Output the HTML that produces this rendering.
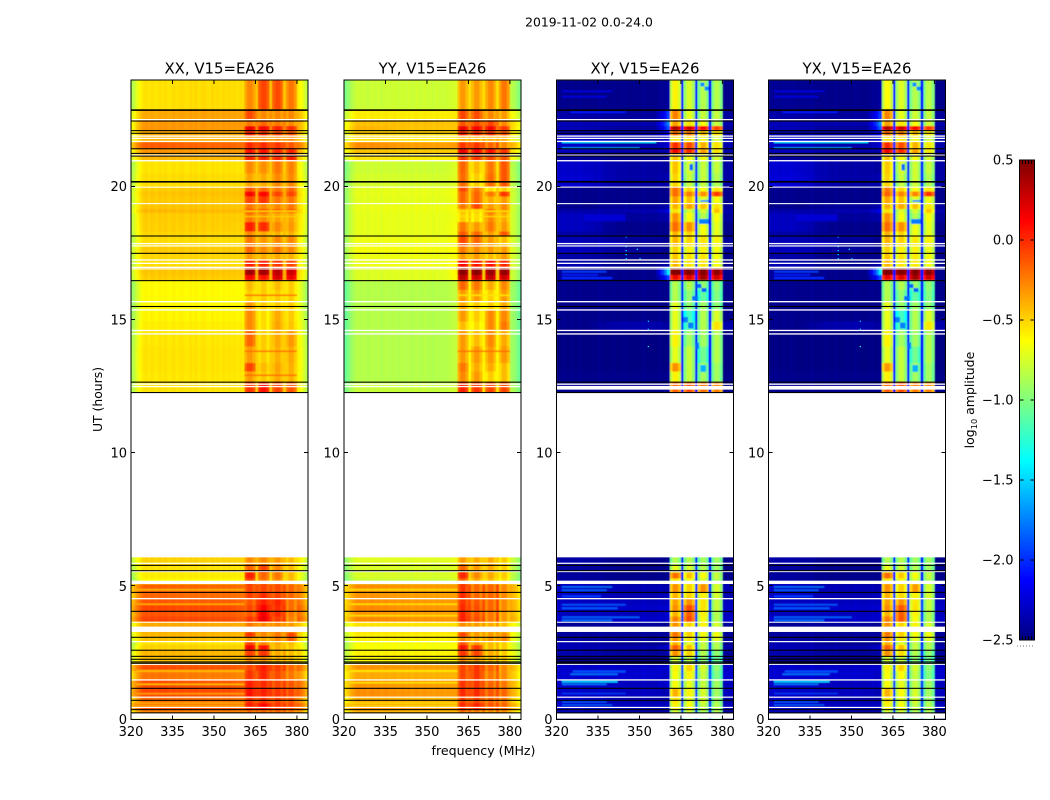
<!DOCTYPE html>
<html lang="en">
<head>
<meta charset="utf-8">
<title>2019-11-02 0.0-24.0</title>
<style>
html,body{margin:0;padding:0;background:#fff;}
svg{display:block;font-family:"DejaVu Sans","Liberation Sans",sans-serif;fill:#000;}
</style>
</head>
<body>
<svg id="fig" xmlns="http://www.w3.org/2000/svg" width="1050" height="800" viewBox="0 0 1050 800">
  <defs>
    <filter id="soft" x="0" y="0" width="100%" height="100%"><feGaussianBlur stdDeviation="0.55"/></filter>
  </defs>
  <rect width="1050" height="800" fill="#fff"/>
  <text x="589" y="26.5" text-anchor="middle" font-size="12.4">2019-11-02 0.0-24.0</text>
  <text transform="translate(102,399.5) rotate(-90)" text-anchor="middle" font-size="12.4">UT (hours)</text>
  <text x="483.5" y="755" text-anchor="middle" font-size="12.6">frequency (MHz)</text>
  <text transform="translate(974,400) rotate(-90)" text-anchor="middle" font-size="12.5">log<tspan font-size="8.2" dy="3">10</tspan><tspan dy="-3"> amplitude</tspan></text>
  <g id="panels"></g>
  <g id="colorbar"></g>
</svg>
<script>
// ---------- chart data ----------
const xTicks = [320, 335, 350, 365, 380];
const yTicks = [0, 5, 10, 15, 20];
const colorTicks = [0.5, 0, -0.5, -1, -1.5, -2, -2.5];
const colorTickLabels = ['0.5', '0.0', '\u22120.5', '\u22121.0', '\u22121.5', '\u22122.0', '\u22122.5'];
const panelTitles = ['XX, V15=EA26', 'YY, V15=EA26', 'XY, V15=EA26', 'YX, V15=EA26'];

// Time rows: top and bottom hour of every block of integrations
const rowSpans = [
[24,22.9],[22.9,22.51],[22.51,22.27],[22.27,22.1],[22.1,21.9],[21.9,21.67],[21.67,21.42],[21.42,21.24],[21.24,20.97],[20.97,20.5],
[20.5,19.98],[19.98,19.81],[19.81,19.62],[19.62,19.36],[19.36,19.15],[19.15,19],[19,18.68],[18.68,18.31],[18.31,18.15],[18.15,17.75],
[17.75,17.5],[17.5,17.25],[17.25,16.97],[16.97,16.68],[16.68,16.47],[16.47,16.12],[16.12,15.68],[15.68,15.37],[15.37,14.93],[14.93,14.6],
[14.6,14],[14,13.37],[13.37,13.06],[13.06,12.66],[12.66,12.27],
[6.09,5.79],[5.79,5.52],[5.52,5.3],[5.3,5.08],[5.08,4.77],[4.77,4.54],[4.54,4.29],[4.29,4.06],[4.06,3.86],[3.86,3.65],
[3.65,3.27],[3.27,3.09],[3.09,2.92],[2.92,2.8],[2.8,2.6],[2.6,2.37],[2.37,2.07],[2.07,1.82],[1.82,1.49],[1.49,1.17],
[1.17,0.84],[0.84,0.61],[0.61,0.37],[0.37,0.24],[0.24,0]
];

// log10 amplitude per row: low band, mid band, near band, sub-band 1..4
const xxLevels = [
[-.55,-.53,-.53,-.3,-.1,-.12,-.25],[-.38,-.36,-.36,-.12,-.3,-.3,-.3],[-.33,-.33,-.33,-.25,-.2,-.25,-.3],[-.32,-.33,-.33,.15,.12,.02,-.02],[-.38,-.38,-.38,0,-.05,-.1,-.15],
[-.4,-.4,-.4,-.3,-.3,-.3,-.3],[-.15,-.18,-.2,-.02,-.02,-.05,-.15],[-.32,-.33,-.33,.05,.05,0,0],[-.42,-.42,-.42,0,0,-.02,.02],[-.55,-.55,-.55,-.3,-.32,-.25,-.28],
[-.53,-.53,-.53,-.38,-.4,-.3,-.3],[-.49,-.47,-.45,-.15,-.2,-.25,-.2],[-.46,-.45,-.43,.12,.1,-.1,-.1],[-.48,-.47,-.45,-.1,-.05,-.25,-.25],[-.46,-.46,-.46,-.25,-.3,-.3,-.25],
[-.42,-.43,-.43,-.1,-.1,-.15,-.15],[-.48,-.48,-.48,-.25,-.3,-.38,-.38],[-.49,-.49,-.49,.02,-.02,-.3,-.35],[-.51,-.51,-.51,-.3,-.38,-.42,-.42],[-.53,-.53,-.53,-.25,-.35,-.3,-.3],
[-.48,-.48,-.48,-.2,-.3,-.25,-.3],[-.51,-.51,-.51,-.35,-.4,-.4,-.42],[-.53,-.53,-.53,.02,.02,-.05,-.1],[-.46,-.46,-.46,.38,.38,.3,.25],[-.48,-.48,-.48,.12,.05,.22,.15],
[-.62,-.62,-.62,-.45,-.5,-.45,-.5],[-.62,-.62,-.62,-.5,-.5,-.5,-.5],[-.62,-.62,-.62,-.35,-.5,-.5,-.5],[-.6,-.6,-.6,-.3,-.55,-.4,-.5],[-.58,-.58,-.58,-.3,-.55,-.38,-.48],
[-.56,-.56,-.56,-.2,-.5,-.4,-.35],[-.55,-.55,-.55,-.35,-.5,-.42,-.4],[-.55,-.55,-.55,-.1,-.45,-.38,-.42],[-.56,-.56,-.56,-.35,-.48,-.4,-.42],[-.55,-.55,-.55,-.05,.05,-.1,-.15],
[-.5,-.5,-.5,-.3,-.3,-.35,-.45],[-.55,-.55,-.55,-.2,-.1,-.3,-.45],[-.58,-.58,-.58,.02,-.2,-.25,-.45],[-.62,-.62,-.62,-.1,-.25,-.3,-.45],[-.16,-.18,-.2,-.1,-.1,-.12,-.2],
[-.18,-.2,-.22,-.08,-.02,-.1,-.2],[-.13,-.15,-.18,-.15,.02,0,-.22],[-.08,-.1,-.14,-.1,.08,-.02,-.22],[-.13,-.15,-.18,-.15,.12,-.02,-.25],[-.08,-.1,-.15,-.05,.15,-.08,-.28],
[-.38,-.38,-.38,-.25,-.3,-.3,-.35],[-.42,-.42,-.42,-.05,-.3,-.25,-.1],[-.45,-.45,-.45,-.35,-.4,-.3,-.2],[-.55,-.55,-.55,-.1,-.3,-.4,-.45],[-.5,-.5,-.5,.12,.05,-.42,-.48],
[-.42,-.42,-.42,-.08,-.05,-.4,-.45],[-.45,-.45,-.45,-.3,-.32,-.42,-.45],[-.1,-.13,-.16,-.1,.02,-.08,-.2],[-.22,-.25,-.28,-.05,0,-.12,-.25],[-.1,-.13,-.16,.02,-.02,-.1,-.15],
[-.08,-.1,-.14,.05,.02,-.05,-.1],[-.2,-.22,-.24,-.05,-.05,-.1,-.15],[-.1,-.12,-.15,.02,.1,-.05,-.1],[-.25,-.25,-.25,-.2,-.2,-.2,-.25],[-.55,-.55,-.55,-.5,-.5,-.5,-.5]
];
const yyLevels = [
[-.79,-.78,-.76,-.35,-.35,-.3,-.25],[-.58,-.58,-.58,-.1,-.12,-.3,-.35],[-.45,-.45,-.48,-.15,-.1,-.1,-.3],[-.42,-.46,-.48,.15,.12,.12,-.05],[-.5,-.52,-.55,0,-.02,-.05,-.15],
[-.55,-.58,-.6,-.4,-.4,-.4,-.4],[-.3,-.35,-.35,-.05,-.05,-.2,-.3],[-.45,-.48,-.5,.15,.1,.05,-.05],[-.55,-.58,-.6,-.05,-.05,-.1,-.15],[-.78,-.78,-.75,-.2,-.45,-.25,-.15],
[-.76,-.76,-.74,-.22,-.5,-.22,-.15],[-.72,-.71,-.68,-.1,-.25,-.55,-.5],[-.71,-.7,-.67,-.2,-.2,-.25,-.05],[-.72,-.71,-.69,-.2,-.2,-.4,-.35],[-.7,-.69,-.67,-.25,-.1,-.35,-.3],
[-.7,-.69,-.67,-.45,-.5,-.2,-.3],[-.71,-.7,-.69,-.5,-.55,-.3,-.4],[-.71,-.7,-.67,-.25,-.35,-.25,-.35],[-.71,-.7,-.67,-.15,-.2,-.35,-.15],[-.68,-.68,-.66,-.1,-.2,-.35,-.45],
[-.66,-.66,-.64,-.25,-.3,-.35,-.35],[-.69,-.68,-.66,-.35,-.35,-.45,-.35],[-.69,-.68,-.64,.1,.05,.05,0],[-.74,-.72,-.62,.45,.45,.4,.42],[-.74,-.72,-.64,.3,.25,.3,.25],
[-.85,-.85,-.82,-.2,-.25,-.4,-.3],[-.85,-.85,-.82,-.35,-.35,-.5,-.35],[-.85,-.85,-.82,-.4,-.5,-.5,-.4],[-.85,-.85,-.82,-.35,-.5,-.3,-.3],[-.85,-.85,-.82,-.45,-.55,-.3,-.25],
[-.85,-.85,-.82,-.35,-.45,-.3,-.4],[-.85,-.85,-.82,-.35,-.35,-.35,-.35],[-.85,-.85,-.82,-.25,-.4,-.4,-.45],[-.85,-.85,-.82,-.3,-.35,-.5,-.45],[-.8,-.8,-.78,.02,-.05,-.1,-.1],
[-.72,-.72,-.7,-.35,-.4,-.4,-.5],[-.75,-.75,-.73,-.2,-.35,-.4,-.5],[-.75,-.75,-.73,0,-.3,-.4,-.5],[-.8,-.8,-.78,-.2,-.4,-.45,-.55],[-.3,-.33,-.35,-.05,-.2,-.2,-.3],
[-.32,-.35,-.37,-.02,-.2,-.2,-.3],[-.3,-.33,-.35,-.05,-.15,-.2,-.3],[-.28,-.32,-.35,-.02,-.12,-.2,-.3],[-.32,-.35,-.37,0,-.15,-.25,-.35],[-.28,-.32,-.35,.02,-.12,-.25,-.35],
[-.55,-.55,-.55,-.3,-.35,-.4,-.45],[-.58,-.58,-.58,-.1,-.35,-.35,-.3],[-.6,-.6,-.6,-.3,-.4,-.35,-.3],[-.66,-.66,-.66,-.15,-.35,-.45,-.5],[-.65,-.65,-.65,.05,-.05,-.45,-.5],
[-.6,-.6,-.6,-.05,-.1,-.4,-.5],[-.62,-.62,-.62,-.3,-.35,-.45,-.5],[-.32,-.35,-.37,-.1,-.05,-.2,-.3],[-.38,-.4,-.42,-.1,-.05,-.25,-.3],[-.32,-.35,-.37,-.05,-.05,-.2,-.25],
[-.3,-.33,-.35,-.02,-.02,-.15,-.2],[-.4,-.42,-.42,-.1,-.1,-.2,-.25],[-.3,-.33,-.35,-.02,.02,-.15,-.2],[-.4,-.42,-.42,-.2,-.25,-.3,-.3],[-.7,-.7,-.7,-.6,-.6,-.6,-.6]
];
const xyLevels = [
[-2.4,-2.4,-2.35,-.75,-.9,-1,-1],[-2.32,-2.35,-1.9,-.4,-.85,-.95,-.95],[-2.28,-2.3,-1.7,-.5,-.7,-.8,-.95],[-2.28,-2.35,-1.85,.2,.1,-.05,-.2],[-2.3,-2.3,-2.1,-.35,-.4,-.6,-.7],
[-2.2,-2.3,-2.2,-.7,-.7,-.8,-.9],[-2.22,-2.3,-2.2,-.15,-.25,-.55,-.7],[-2.25,-2.3,-2.3,0,-.15,-.5,-.7],[-2.35,-2.4,-2.35,-.6,-.8,-.8,-.9],[-2.22,-2.32,-2.35,-.6,-.9,-.95,-.95],
[-2.2,-2.32,-2.3,-.65,-.95,-.95,-1],[-2.4,-2.4,-2.4,-.35,-.65,-.8,-.7],[-2.4,-2.4,-2.4,-.35,-.4,-.45,-.2],[-2.4,-2.4,-2.4,-.5,-.6,-.85,-.8],[-2.4,-2.35,-2.3,-.55,-.5,-.6,-.7],
[-2.32,-2.3,-2.15,-.7,-.9,-.9,-.6],[-2.25,-2.35,-2.3,-.45,-.8,-1,-.8],[-2.25,-2.4,-2.4,-.35,-.45,-.8,-.85],[-2.32,-2.4,-2.4,-.55,-.65,-.8,-.85],[-2.28,-2.35,-2.4,-.55,-.65,-.7,-.75],
[-2.25,-2.35,-2.4,-.65,-.75,-.75,-.8],[-2.32,-2.4,-2.4,-.6,-.7,-.7,-.8],[-2.3,-2.4,-2.3,-.55,-.7,-.7,-.8],[-2.35,-2.4,-1.4,.48,.42,.35,.3],[-2.35,-2.4,-1.9,0,.05,.25,.1],
[-2.4,-2.4,-2.4,-1,-1,-1.1,-1.1],[-2.4,-2.4,-2.4,-1,-1.1,-1.25,-1.15],[-2.4,-2.4,-2.4,-.85,-1.1,-1.05,-1.1],[-2.4,-2.4,-2.4,-.85,-1.35,-1,-.9],[-2.4,-2.3,-2.35,-.85,-1.25,-1,-.7],
[-2.42,-2.42,-2.42,-.75,-1.05,-1.05,-1],[-2.42,-2.42,-2.42,-.85,-.95,-1.2,-1],[-2.42,-2.42,-2.42,-.45,-.95,-1.05,-1.05],[-2.4,-2.4,-2.4,-.75,-.95,-1.05,-1.05],[-2.4,-2.4,-2.4,-.3,-.25,-.35,-.4],
[-2.32,-2.4,-2.4,-1,-1,-1.05,-1.05],[-2.35,-2.4,-2.4,-.85,-.9,-1,-1.05],[-2.35,-2.4,-2.4,-.35,-.6,-.8,-.95],[-2.35,-2.4,-2.4,-.7,-.8,-.9,-1],[-2.22,-2.28,-2.3,-.45,-.65,-.45,-.9],
[-2.22,-2.3,-2.25,-.55,-.65,-.75,-.9],[-2.25,-2.25,-2.25,-.5,-.45,-.7,-.95],[-2.2,-2.22,-2.2,-.45,-.25,-.7,-.95],[-2.25,-2.25,-2.2,-.55,-.3,-.75,-1],[-2.2,-2.22,-2.2,-.4,-.25,-.8,-1],
[-2.38,-2.35,-2.4,-.45,-.65,-.75,-.9],[-2.35,-2.35,-2.35,-.35,-.65,-.8,-.8],[-2.35,-2.35,-2.35,-.45,-.7,-.85,-.85],[-2.3,-2.4,-2.4,-.55,-.85,-.95,-1],[-2.28,-2.3,-2.2,-.3,-.6,-.95,-1],
[-2.3,-2.35,-2.3,-.45,-.65,-1,-1.1],[-2.4,-2.4,-2.4,-.9,-.95,-1.1,-1.2],[-2.22,-2.22,-2.2,-.75,-.65,-.9,-1.1],[-2.2,-2.2,-2.25,-.8,-.75,-.95,-1.15],[-2.22,-2.25,-2.2,-.8,-.85,-.95,-1.05],
[-2.22,-2.25,-2.3,-.55,-.75,-.9,-1.05],[-2.22,-2.3,-2.3,-.7,-.85,-.9,-1.05],[-2.2,-2.25,-2.25,-.75,-.8,-.95,-1],[-2.25,-2.3,-2.3,-.9,-.9,-1,-1],[-2.4,-2.4,-2.4,-1.2,-1.2,-1.2,-1.2]
];
const yxLevels = [
[-2.38,-2.4,-2.35,-.78,-.88,-1,-.98],[-2.32,-2.35,-1.9,-.42,-.85,-.92,-.95],[-2.28,-2.3,-1.65,-.5,-.72,-.8,-.92],[-2.28,-2.35,-1.8,.2,.12,-.02,-.18],[-2.3,-2.3,-2.1,-.35,-.42,-.6,-.72],
[-2.2,-2.3,-2.2,-.7,-.72,-.8,-.9],[-2.22,-2.3,-2.2,-.15,-.25,-.55,-.72],[-2.25,-2.3,-2.3,.02,-.15,-.5,-.72],[-2.35,-2.4,-2.35,-.62,-.8,-.8,-.9],[-2.2,-2.32,-2.35,-.62,-.9,-.92,-.95],
[-2.18,-2.32,-2.3,-.65,-.95,-.92,-1],[-2.4,-2.4,-2.4,-.38,-.65,-.78,-.7],[-2.4,-2.4,-2.4,-.32,-.42,-.42,-.18],[-2.4,-2.4,-2.4,-.52,-.6,-.85,-.82],[-2.4,-2.35,-2.3,-.55,-.52,-.6,-.72],
[-2.32,-2.3,-2.12,-.7,-.88,-.9,-.62],[-2.25,-2.35,-2.3,-.45,-.82,-1,-.8],[-2.25,-2.4,-2.4,-.35,-.45,-.82,-.85],[-2.32,-2.4,-2.4,-.55,-.65,-.82,-.85],[-2.28,-2.35,-2.4,-.55,-.65,-.72,-.75],
[-2.25,-2.35,-2.4,-.65,-.75,-.75,-.82],[-2.32,-2.4,-2.4,-.6,-.7,-.72,-.8],[-2.3,-2.4,-2.3,-.55,-.7,-.72,-.8],[-2.35,-2.4,-1.35,.48,.44,.36,.32],[-2.35,-2.4,-1.85,.02,.05,.25,.12],
[-2.4,-2.4,-2.4,-1,-1,-1.08,-1.1],[-2.4,-2.4,-2.4,-1,-1.1,-1.25,-1.15],[-2.4,-2.4,-2.4,-.85,-1.08,-1.05,-1.1],[-2.4,-2.4,-2.4,-.85,-1.35,-1,-.88],[-2.4,-2.3,-2.35,-.85,-1.25,-1,-.72],
[-2.42,-2.42,-2.42,-.75,-1.05,-1.05,-1],[-2.42,-2.42,-2.42,-.85,-.95,-1.2,-1],[-2.42,-2.42,-2.42,-.48,-.95,-1.05,-1.05],[-2.4,-2.4,-2.4,-.75,-.95,-1.05,-1.05],[-2.4,-2.4,-2.4,-.3,-.25,-.38,-.4],
[-2.32,-2.4,-2.4,-1,-1,-1.05,-1.05],[-2.35,-2.4,-2.4,-.85,-.92,-1,-1.05],[-2.35,-2.4,-2.4,-.35,-.62,-.8,-.95],[-2.35,-2.4,-2.4,-.72,-.8,-.9,-1],[-2.22,-2.28,-2.3,-.45,-.65,-.48,-.9],
[-2.22,-2.3,-2.25,-.55,-.68,-.75,-.9],[-2.25,-2.25,-2.25,-.5,-.45,-.72,-.95],[-2.2,-2.22,-2.2,-.45,-.28,-.7,-.95],[-2.25,-2.25,-2.2,-.55,-.3,-.75,-1],[-2.2,-2.22,-2.2,-.4,-.28,-.8,-1],
[-2.38,-2.35,-2.4,-.45,-.65,-.75,-.9],[-2.35,-2.35,-2.35,-.38,-.65,-.8,-.8],[-2.35,-2.35,-2.35,-.45,-.72,-.85,-.85],[-2.3,-2.4,-2.4,-.55,-.85,-.95,-1],[-2.28,-2.3,-2.2,-.32,-.6,-.95,-1],
[-2.3,-2.35,-2.3,-.45,-.68,-1,-1.1],[-2.4,-2.4,-2.4,-.9,-.95,-1.1,-1.2],[-2.22,-2.22,-2.2,-.75,-.65,-.9,-1.1],[-2.2,-2.2,-2.25,-.8,-.78,-.95,-1.15],[-2.22,-2.25,-2.2,-.8,-.85,-.95,-1.05],
[-2.22,-2.25,-2.3,-.55,-.78,-.9,-1.05],[-2.22,-2.3,-2.3,-.7,-.85,-.9,-1.05],[-2.2,-2.25,-2.25,-.75,-.8,-.95,-1],[-2.25,-2.3,-2.3,-.9,-.9,-1,-1],[-2.4,-2.4,-2.4,-1.2,-1.2,-1.2,-1.2]
];

// Which level column each of the 64 1-MHz channels reads
const channelColumns = [
0,0,0,0,0,0,0,0,0,0,0,0,0,0,0,0,0,0,0,0,0,0,0,0,0,0,0,0,0,0,0,0,0,0,0,0,
2,2,2,2,2,
3,3,3,3,1,4,4,4,4,1,5,5,5,5,1,6,6,6,6,
1,1,1,1
];
// Share of that column in a channel; the remainder comes from the mid-band column
const channelWeights = [
1,1,1,1,1,1,1,1,1,1,.95,.9,.85,.8,.7,.6,.5,.4,.3,.25,.2,.15,.1,.08,.05,.03,.02,0,0,0,0,0,0,0,0,0,
.15,.3,.5,.75,1,
1,1,1,1,1,1,1,1,1,1,1,1,1,1,1,1,1,1,1,
1,1,1,1
];
// Per-channel offset from the row level (bandpass shape)
const xxChannelShape = [
-.3,-.22,-.12,-.05,0,.02,-.01,.02,0,-.01,.02,0,.02,-.01,0,.02,-.01,.01,.02,0,-.01,.02,
0,.02,-.01,.01,.02,0,-.01,.02,0,.01,-.01,.02,0,.01,
0,.01,-.01,.01,0,
-.06,.03,.03,-.05,.08,-.04,.03,.03,-.06,.08,-.05,.03,.03,-.06,.08,-.06,.03,.03,-.08,
-.04,-.1,-.18,-.28
];
const yyChannelShape = [
-.22,-.16,-.08,-.03,.01,.02,0,.02,-.01,.01,.02,0,.02,-.01,.01,.02,0,.01,.02,0,.01,.02,
0,.02,-.01,.01,.02,0,.01,.02,0,.01,-.01,.02,0,.01,
0,.01,.01,.02,.02,
-.1,.03,.03,-.08,.25,-.08,.03,.03,-.08,.25,-.08,.03,.03,-.08,.25,-.08,.03,.03,-.1,
-.04,-.08,-.14,-.22
];
const xyChannelShape = [
-.07,-.07,-.05,-.07,-.07,-.05,-.07,-.07,-.05,-.07,-.07,-.07,-.07,-.06,-.07,-.04,-.07,-.07,-.07,-.07,-.05,-.07,
-.07,-.07,-.05,-.07,-.07,-.07,-.06,-.07,-.07,-.05,-.07,-.07,-.07,-.07,
-.07,-.05,-.07,-.07,-.04,
-.05,.16,.16,0,.33,-.02,.16,.16,0,.33,-.02,.16,.16,0,.33,-.02,.16,.16,0,
-.07,-.07,-.07,-.07
];
const yxChannelShape = [
-.07,-.07,-.05,-.07,-.07,-.05,-.07,-.06,-.05,-.07,-.07,-.07,-.07,-.06,-.07,-.04,-.07,-.07,-.07,-.07,-.05,-.07,
-.07,-.07,-.05,-.07,-.07,-.07,-.06,-.07,-.07,-.05,-.07,-.07,-.07,-.07,
-.07,-.05,-.07,-.07,-.04,
-.05,.16,.16,0,.33,-.02,.16,.16,0,.33,-.02,.16,.16,0,.33,-.02,.16,.16,0,
-.07,-.07,-.07,-.07
];

// Streaks and patches on top of the rows: start MHz, end MHz, top hour, bottom hour, log10 amplitude
const crossPatches = [
// thin emission streaks at low frequency
[322,356,21.7,21.63,-1.45],[322,350,21.47,21.42,-1.6],[325,345,22.82,22.77,-2.05],[322,340,23.6,23.55,-2.2],[322,338,23.4,23.35,-2.2],
[322,338,16.84,16.78,-1.95],[322,335,16.72,16.67,-2.05],[322,340,16.6,16.54,-2.0],[330,345,18.95,18.7,-2.25],[335,345,17.9,17.8,-2.25],
[322,340,5.0,4.95,-1.75],[322,338,4.88,4.83,-1.85],[322,336,4.66,4.6,-1.95],[322,345,4.33,4.27,-1.9],[322,342,4.2,4.14,-1.85],
[322,350,3.86,3.8,-1.85],[322,340,3.76,3.7,-1.8],[326,345,1.83,1.77,-1.9],[325,342,1.73,1.67,-1.8],[322,342,1.45,1.38,-1.5],
[322,338,1.35,1.29,-1.8],[322,345,1.0,.95,-1.95],[322,338,.68,.63,-1.85],[322,340,.57,.52,-1.85],
// dark diagonal features across the sub-bands
[370.6,372.5,16.35,16.2,-1.85],[372.5,374.2,16.2,16.05,-1.85],[369,371.2,15.9,15.72,-1.8],[366,367.5,15.1,14.9,-1.75],[367.5,369.5,14.9,14.68,-1.75],
[370.5,371.6,14.15,13.9,-1.8],[368,369.4,20.85,20.6,-1.8],[372,373.5,23.9,23.75,-1.7],[373.5,375,23.75,23.6,-1.7],[371.5,375,18.78,18.6,-1.75],
[372,375,19.5,19.42,-1.7],[372,374,13.3,13.05,-1.6]
];
const xxPatches = [
[322,361,4.9,4.85,-.42],[322,361,4.35,4.29,-.38],[322,361,1.85,1.79,-.42],[322,361,1.35,1.29,-.42],[322,361,.99,.93,-.34],[322,361,.64,.58,-.38],[322,361,.55,.49,-.38],
[361,380,19.1,19.05,-.5],[361,380,18.9,18.85,-.5],[361,380,15.95,15.9,-.2],[361,380,13.85,13.8,-.2],[361,380,12.95,12.9,-.2]
];
const yyPatches = [
[322,361,4.9,4.85,-.56],[322,361,4.35,4.29,-.54],[322,361,3.93,3.87,-.54],[322,361,1.85,1.79,-.55],[322,361,1.41,1.35,-.55],[322,361,.64,.58,-.52],[322,361,.55,.49,-.52],
[361,380,19.1,19.05,-.55],[361,380,18.9,18.85,-.55],[361,380,15.95,15.9,-.55],[361,380,13.85,13.8,-.2]
];

// Isolated bright spots: frequency (MHz), hour, log10 amplitude
const crossSpeckles = [
[345,19.36,-1.7],[345,18.1,-1.7],[345,17.75,-1.4],[345,17.6,-1.4],[345,17.45,-1.4],[345,17.3,-1.4],[349,17.65,-1.3],[350,17.3,-1.5],[353,14.95,-1.5],[353,14.65,-1.5],[353,14.0,-1.3]
];

// Blank (no data) spans, start/end hour
const gapSpans = [
[22.535,22.49],[21.92,21.87],[21.835,21.785],[21.72,21.67],[21.2,21.16],[20.995,20.945],[20,19.96],[19.38,19.34],[17.885,17.835],[17.795,17.75],
[17.27,17.22],[17.145,17.095],[16.995,16.945],[16.93,16.89],[15.705,15.655],[15.395,15.345],[14.625,14.575],[14.495,14.445],[12.61,12.56],
[12.27,6.09],[5.885,5.84],[5.575,5.53],[5.21,5.085],[4.56,4.51],[3.67,3.63],[3.485,3.285],[2.945,2.9],[2.095,2.05],[1.51,1.46],
[.86,.815],[.475,.43],[.235,.03]
];
const copolGapSpans = [[12.52,12.47]];
const crossGapSpans = [[12.52,12.38]];
// Flagged integrations drawn in black, start/end hour
const flagSpans = [
[22.9,22.84],[22.48,22.44],[22.12,22.08],[22.02,21.98],[21.44,21.4],[21.265,21.225],[21.165,21.125],[20.21,20.15],[18.165,18.125],[17.515,17.475],
[16.49,16.45],[15.52,15.48],[12.68,12.64],[12.29,12.25],[5.805,5.765],[5.605,5.565],[4.79,4.75],[4.08,4.04],[3.105,3.065],[2.62,2.58],
[2.39,2.35],[2.28,2.24],[2.18,2.14],[2.13,2.09],[1.19,1.15],[.74,.7],[.39,.35],[.27,.23]
];
const panelLevels = [xxLevels, yyLevels, xyLevels, yxLevels];
const panelShapes = [xxChannelShape, yyChannelShape, xyChannelShape, yxChannelShape];
const panelSpeckles = [[], [], crossSpeckles, crossSpeckles];
const panelPatches = [xxPatches, yyPatches, crossPatches, crossPatches];
const panelGaps = [copolGapSpans, copolGapSpans, crossGapSpans, crossGapSpans];
const colorbarEndMarks = [1022.5, 1025.5, 1028.5, 1031.5];

// ---------- layout ----------
const SVGNS = 'http://www.w3.org/2000/svg';
const panelLeft = [131, 344, 556.5, 768.5];
const panelWidth = 177;
const plotTop = 80, plotBottom = 719.5;
const freqMin = 320, freqMax = 384, hourMin = 0, hourMax = 24;
const vMin = -2.5, vMax = 0.5;
const cbLeft = 1019.5, cbRight = 1034.5, cbTop = 160, cbBottom = 640;

function xScale(panel, freq) { return panelLeft[panel] + (freq - freqMin) / (freqMax - freqMin) * panelWidth; }
function yScale(hour) { return plotBottom - (hour - hourMin) / (hourMax - hourMin) * (plotBottom - plotTop); }
function cbScale(v) { return cbBottom - (v - vMin) / (vMax - vMin) * (cbBottom - cbTop); }

function jet(v) {
  const t = Math.max(0, Math.min(1, (v - vMin) / (vMax - vMin)));
  const ramp = function (c) { return Math.round(255 * Math.max(0, Math.min(1, 1.5 - Math.abs(4 * t - c)))); };
  return 'rgb(' + ramp(3) + ',' + ramp(2) + ',' + ramp(1) + ')';
}
function mk(tag, attrs, parent) {
  const el = document.createElementNS(SVGNS, tag);
  for (const k in attrs) el.setAttribute(k, attrs[k]);
  parent.appendChild(el);
  return el;
}

// ---------- panels ----------
const panelsRoot = document.getElementById('panels');
panelTitles.forEach(function (title, p) {
  const g = mk('g', {}, panelsRoot);
  
  

  const clipId = 'clip' + p;
  const clip = mk('clipPath', { id: clipId }, g);
  mk('rect', { x: panelLeft[p], y: plotTop, width: panelWidth, height: plotBottom - plotTop }, clip);

  const clipped = mk('g', { 'clip-path': 'url(#' + clipId + ')' }, g);
  const cells = mk('g', { filter: 'url(#soft)', 'shape-rendering': 'crispEdges' }, clipped);
  
  

  const levels = panelLevels[p];
  const shape = panelShapes[p];
  rowSpans.forEach(function (span, r) {
    for (let c = 0; c < channelColumns.length; c++) {
      const w = channelWeights[c];
      const v = w * levels[r][channelColumns[c]] + (1 - w) * levels[r][1] + shape[c];
      const cell = mk('rect', {
        x: xScale(p, freqMin + c), y: yScale(span[0]),
        width: xScale(p, freqMin + c + 1) - xScale(p, freqMin + c) + 0.4,
        height: yScale(span[1]) - yScale(span[0]) + 0.4,
        fill: jet(v)
      }, cells);
      
      
    }
  });
  panelPatches[p].forEach(function (s) {
    const patch = mk('rect', {
      x: xScale(p, s[0]), y: yScale(s[2]),
      width: xScale(p, s[1]) - xScale(p, s[0]), height: yScale(s[3]) - yScale(s[2]),
      fill: jet(s[4])
    }, cells);
    
    
  });
  panelSpeckles[p].forEach(function (s) {
    const spot = mk('rect', {
      x: xScale(p, s[0]), y: yScale(s[1]) - 0.5, width: 1.2, height: 1.2, fill: jet(s[2])
    }, clipped);
    
    
  });
  gapSpans.concat(panelGaps[p]).forEach(function (s) {
    const gap = mk('rect', {
      x: panelLeft[p], y: yScale(s[0]), width: panelWidth, height: yScale(s[1]) - yScale(s[0]), fill: '#fff'
    }, clipped);
    
    
  });
  flagSpans.forEach(function (s) {
    const flag = mk('rect', {
      x: panelLeft[p], y: yScale(s[0]), width: panelWidth, height: yScale(s[1]) - yScale(s[0]), fill: '#000'
    }, clipped);
    
    
  });

  // ticks
  xTicks.forEach(function (t) {
    const x = xScale(p, t);
    const t1 = mk('line', { x1: x, x2: x, y1: plotBottom, y2: plotBottom - 4, stroke: '#000', 'stroke-width': 1 }, g);
    
    
    const t2 = mk('line', { x1: x, x2: x, y1: plotTop, y2: plotTop + 4, stroke: '#000', 'stroke-width': 1 }, g);
    
    
    const lab = mk('text', { x: x, y: plotBottom + 16.5, 'text-anchor': 'middle', 'font-size': 13 }, g);
    
    
    lab.textContent = t;
  });
  yTicks.forEach(function (t) {
    const y = Math.round(yScale(t)) - 0.5;
    const l = mk('line', { x1: panelLeft[p], x2: panelLeft[p] + 4, y1: y, y2: y, stroke: '#000', 'stroke-width': 1 }, g);
    
    
    const r = mk('line', { x1: panelLeft[p] + panelWidth, x2: panelLeft[p] + panelWidth - 4, y1: y, y2: y, stroke: '#000', 'stroke-width': 1 }, g);
    
    
    const lab = mk('text', { x: panelLeft[p] - 4, y: yScale(t) + 4.5, 'text-anchor': 'end', 'font-size': 13 }, g);
    
    
    lab.textContent = t;
  });
  const frame = mk('rect', {
    x: panelLeft[p], y: plotTop, width: panelWidth, height: plotBottom - plotTop, fill: 'none', stroke: '#000', 'stroke-width': 1
  }, g);
  
  
  const ttl = mk('text', { x: panelLeft[p] + panelWidth / 2, y: 73.5, 'text-anchor': 'middle', 'font-size': 14.9 }, g);
  
  
  ttl.textContent = title;
});

// ---------- colorbar ----------
const cb = document.getElementById('colorbar');
const cbSteps = 240;
for (let i = 0; i < cbSteps; i++) {
  const v0 = vMin + (vMax - vMin) * i / cbSteps;
  const v1 = vMin + (vMax - vMin) * (i + 1) / cbSteps;
  const swatch = mk('rect', {
    x: cbLeft, y: cbScale(v1), width: cbRight - cbLeft, height: cbScale(v0) - cbScale(v1) + 0.5,
    fill: jet((v0 + v1) / 2), 'shape-rendering': 'crispEdges'
  }, cb);
  
  
}
colorTicks.forEach(function (t, i) {
  const y = cbScale(t);
  const l = mk('line', { x1: cbLeft, x2: cbLeft + 4, y1: y, y2: y, stroke: '#000', 'stroke-width': 1 }, cb);
  
  
  const r = mk('line', { x1: cbRight, x2: cbRight - 4, y1: y, y2: y, stroke: '#000', 'stroke-width': 1 }, cb);
  
  
  const lab = mk('text', { x: cbLeft - 6, y: y + 4.5, 'text-anchor': 'end', 'font-size': 13 }, cb);
  
  
  lab.textContent = colorTickLabels[i];
});
colorbarEndMarks.forEach(function (x) {
  const top = mk('line', { x1: x, x2: x, y1: cbTop, y2: cbTop + 4, stroke: '#000', 'stroke-width': 1 }, cb);
  
  
  const bottom = mk('line', { x1: x, x2: x, y1: cbBottom, y2: cbBottom - 4, stroke: '#000', 'stroke-width': 1 }, cb);
  
  
});
const cbFrame = mk('rect', {
  x: cbLeft, y: cbTop, width: cbRight - cbLeft, height: cbBottom - cbTop, fill: 'none', stroke: '#000', 'stroke-width': 1
}, cb);


const cbDots = mk('line', {
  x1: 1017, x2: 1034, y1: 646, y2: 646, stroke: '#777', 'stroke-width': 1, 'stroke-dasharray': '1 2'
}, cb);


</script>
</body>
</html>
